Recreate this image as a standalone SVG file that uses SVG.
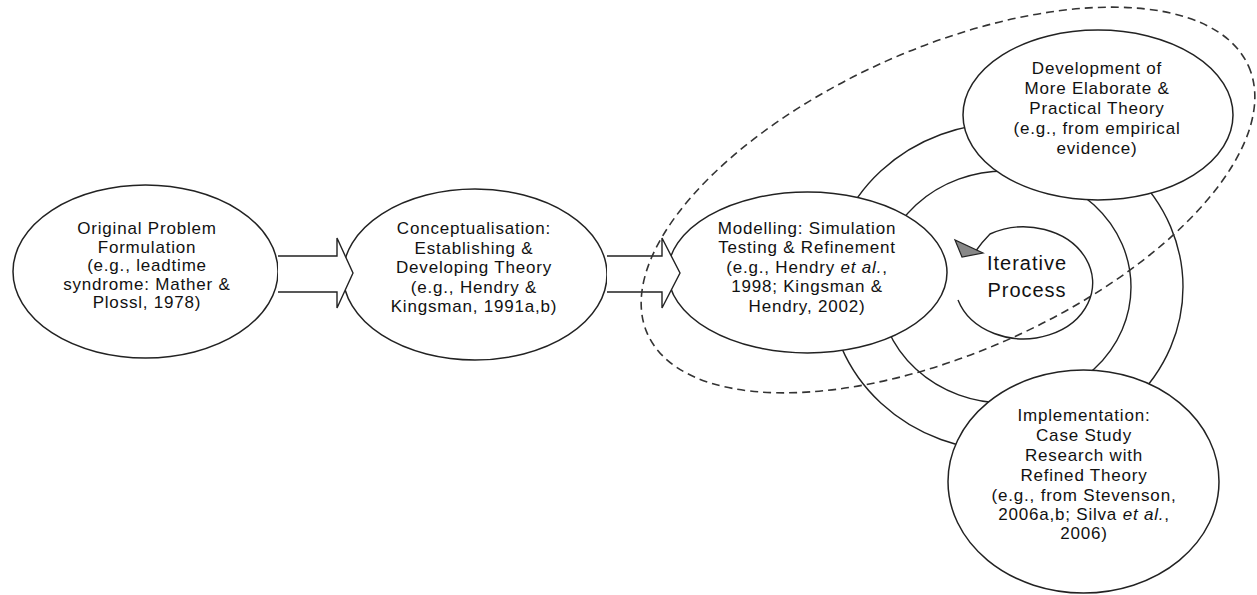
<svg xmlns="http://www.w3.org/2000/svg" width="1257" height="595" viewBox="0 0 1257 595">
<style>
.bg{fill:#ffffff}
.ring{fill:none;stroke:#222;stroke-width:1.4}
.node{fill:#ffffff;stroke:#222;stroke-width:1.5}
.block{fill:#ffffff;stroke:#222;stroke-width:1.4;stroke-linejoin:miter}
.dash{fill:none;stroke:#333;stroke-width:1.6;stroke-dasharray:8 5}
.t{font-family:"Liberation Sans",Arial,sans-serif;font-size:17px;fill:#111;text-anchor:middle;letter-spacing:0.8px}
.big{font-family:"Liberation Sans",Arial,sans-serif;font-size:20px;fill:#111;text-anchor:middle;letter-spacing:1px}
.it{font-style:italic}
</style>
<rect class="bg" x="0" y="0" width="1257" height="595"/>
<g id="cycle-rings">
<ellipse class="ring" cx="1006" cy="287" rx="177" ry="164"/>
<ellipse class="ring" cx="1005" cy="287" rx="126" ry="116"/>
</g>
<g id="node-original">
<ellipse class="node" cx="145.5" cy="271.5" rx="132.5" ry="86.5"/>
<text class="t"><tspan x="147" y="234">Original Problem</tspan><tspan x="147" y="252.6">Formulation</tspan><tspan x="147" y="271.2">(e.g., leadtime</tspan><tspan x="147" y="289.8">syndrome: Mather &amp;</tspan><tspan x="147" y="308.4">Plossl, 1978)</tspan></text>
</g>
<g id="node-conceptualisation">
<ellipse class="node" cx="475" cy="274.5" rx="132" ry="85.5"/>
<text class="t"><tspan x="474" y="234">Conceptualisation:</tspan><tspan x="474" y="253.5">Establishing &amp;</tspan><tspan x="474" y="273">Developing Theory</tspan><tspan x="474" y="292.5">(e.g., Hendry &amp;</tspan><tspan x="474" y="312">Kingsman, 1991a,b)</tspan></text>
</g>
<g id="node-modelling">
<ellipse class="node" cx="807.5" cy="272.5" rx="139.5" ry="80.5"/>
<text class="t"><tspan x="807" y="234">Modelling: Simulation</tspan><tspan x="807" y="253.3">Testing &amp; Refinement</tspan><tspan x="807" y="272.7">(e.g., Hendry <tspan class="it">et al.</tspan>,</tspan><tspan x="807" y="292">1998; Kingsman &amp;</tspan><tspan x="807" y="311.5">Hendry, 2002)</tspan></text>
</g>
<g id="node-development">
<ellipse class="node" cx="1098" cy="115" rx="135" ry="85"/>
<text class="t"><tspan x="1097" y="74">Development of</tspan><tspan x="1097" y="94">More Elaborate &amp;</tspan><tspan x="1097" y="114">Practical Theory</tspan><tspan x="1097" y="134">(e.g., from empirical</tspan><tspan x="1097" y="154">evidence)</tspan></text>
</g>
<g id="node-implementation">
<ellipse class="node" cx="1083.5" cy="481.5" rx="135.5" ry="111.5"/>
<text class="t"><tspan x="1084" y="421">Implementation:</tspan><tspan x="1084" y="441">Case Study</tspan><tspan x="1084" y="461">Research with</tspan><tspan x="1084" y="481">Refined Theory</tspan><tspan x="1084" y="501">(e.g., from Stevenson,</tspan><tspan x="1084" y="520">2006a,b; Silva <tspan class="it">et al.</tspan>,</tspan><tspan x="1084" y="539">2006)</tspan></text>
</g>
<g id="connectors">
<path class="block" d="M278,256 L337,256 L337,238 L353,273 L337,308 L337,292 L278,292"/>
<path class="block" d="M607,256 L662,256 L662,238 L680,273 L662,308 L662,292 L607,292"/>
</g>
<g id="boundary">
<ellipse class="dash" cx="948" cy="200" rx="329" ry="152" transform="rotate(-24 948 200)"/>
</g>
<g id="iterative-process">
<path class="ring" d="M958,300 A69,56 0 1 0 990,234 Q982,242 975,252"/>
<polygon points="955,240 962,257 983,253" fill="#888" stroke="#222" stroke-width="1.2" stroke-linejoin="miter"/>
<text class="big"><tspan x="1027" y="270">Iterative</tspan><tspan x="1027" y="297">Process</tspan></text>
</g>
</svg>
